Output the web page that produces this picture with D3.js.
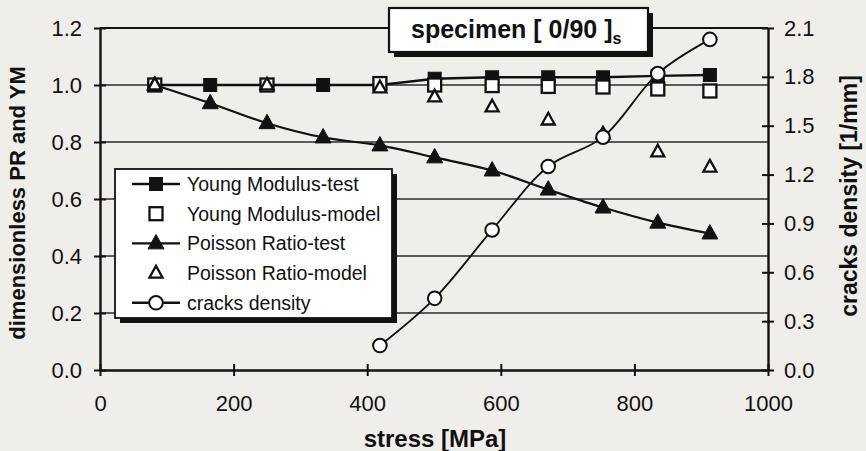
<!DOCTYPE html>
<html><head><meta charset="utf-8">
<script src="https://cdn.jsdelivr.net/npm/d3@7"></script>
<style>body{margin:0;background:#efeeea}svg{display:block}</style>
</head><body><svg id="c" width="866" height="451"></svg>
<script>
// ---- data ----
const ymTestStress  = [82,165,250,334,419,501,587,671,753,835,913];
const ymTest        = [1.0,1.0,1.0,1.0,1.0,1.022,1.027,1.027,1.027,1.032,1.035];
const ymModelStress = [82,250,419,501,587,671,753,835,913];
const ymModel       = [1.0,1.0,1.005,1.0,0.998,0.995,0.993,0.986,0.979];
const prTestStress  = [82,165,250,334,419,501,587,671,753,835,913];
const prTest        = [1.0,0.936,0.866,0.816,0.788,0.746,0.700,0.633,0.570,0.517,0.479];
const prModelStress = [82,250,419,501,587,671,753,835,913];
const prModel       = [1.0,1.0,0.99,0.958,0.923,0.877,0.828,0.765,0.712];
const crackStress   = [419,501,587,671,753,835,913];
const crackDensity  = [0.15,0.44,0.86,1.25,1.43,1.82,2.03];
const xTicks      = [0,200,400,600,800,1000];
const yLeftTicks  = [0,0.2,0.4,0.6,0.8,1.0,1.2];
const yRightTicks = [0,0.3,0.6,0.9,1.2,1.5,1.8,2.1];
const legendLabels = ["Young Modulus-test","Young Modulus-model","Poisson Ratio-test","Poisson Ratio-model","cracks density"];

// ---- layout ----
const svg = d3.select("#c");
const FONT = "'Liberation Sans', Arial, sans-serif";
const L = 100, R = 768, T = 28, B = 370;
const x = d3.scaleLinear().domain([0,1000]).range([L,R]);
const yL = d3.scaleLinear().domain([0,1.2]).range([B,T]);
const yR = d3.scaleLinear().domain([0,2.1]).range([B,T]);
const ink = "#111";

// gridlines
svg.append("g").selectAll("line").data(yLeftTicks.filter(d=>d>0 && d<1.2)).join("line")
  .attr("x1",L).attr("x2",R).attr("y1",d=>yL(d)).attr("y2",d=>yL(d))
  .attr("stroke","#2a2a2a").attr("stroke-width",1.3);
// top frame line
svg.append("line").attr("x1",L).attr("x2",R).attr("y1",T).attr("y2",T)
  .attr("stroke",ink).attr("stroke-width",1.8);

// axes
function styleAxis(g){
  g.select(".domain").attr("stroke",ink).attr("stroke-width",2.4);
  g.selectAll(".tick line").attr("stroke",ink).attr("stroke-width",2);
  g.selectAll(".tick text").attr("font-family",FONT).attr("font-size",22).attr("fill",ink);
}
const gx = svg.append("g").attr("transform",`translate(0,${B})`)
  .call(d3.axisBottom(x).tickValues(xTicks).tickSizeInner(6).tickSizeOuter(0).tickPadding(19).tickFormat(d3.format("d")));
styleAxis(gx);
gx.selectAll(".tick line").attr("y1",-6);
const gl = svg.append("g").attr("transform",`translate(${L},0)`)
  .call(d3.axisLeft(yL).tickValues(yLeftTicks).tickSizeInner(6).tickSizeOuter(0).tickPadding(12).tickFormat(d3.format(".1f")));
styleAxis(gl);
gl.selectAll(".tick line").attr("x1",6);
const gr = svg.append("g").attr("transform",`translate(${R},0)`)
  .call(d3.axisRight(yR).tickValues(yRightTicks).tickSizeInner(6).tickSizeOuter(0).tickPadding(10).tickFormat(d3.format(".1f")));
styleAxis(gr);
gr.selectAll(".tick line").attr("x1",-6);

// axis titles
svg.append("text").attr("x",435).attr("y",447).attr("text-anchor","middle")
  .attr("font-family",FONT).attr("font-weight","bold").attr("font-size",24).attr("fill",ink).text("stress [MPa]");
svg.append("text").attr("transform","translate(25,203) rotate(-90)").attr("text-anchor","middle")
  .attr("font-family",FONT).attr("font-weight","bold").attr("font-size",22).attr("fill",ink).text("dimensionless  PR and YM");
svg.append("text").attr("transform","translate(857,196) rotate(-90)").attr("text-anchor","middle")
  .attr("font-family",FONT).attr("font-weight","bold").attr("font-size",23).attr("fill",ink).text("cracks density [1/mm]");

// ---- marks ----
const zip = (xs,ys)=>xs.map((s,i)=>[s,ys[i]]);
const ymT = zip(ymTestStress,ymTest), ymM = zip(ymModelStress,ymModel);
const prT = zip(prTestStress,prTest), prM = zip(prModelStress,prModel);
const cr = zip(crackStress,crackDensity);

const lineL = d3.line().x(d=>x(d[0])).y(d=>yL(d[1]));
const lineLs = d3.line().x(d=>x(d[0])).y(d=>yL(d[1])).curve(d3.curveCatmullRom.alpha(0.5));
const lineRs = d3.line().x(d=>x(d[0])).y(d=>yR(d[1])).curve(d3.curveCatmullRom.alpha(0.5));

const S = 13; // square size
const triPath = (cx,cy,s)=>{const h=s*0.9;return `M${cx},${cy-h*0.62}L${cx+s/2},${cy+h*0.38}L${cx-s/2},${cy+h*0.38}Z`;};

function sq(g,cx,cy,filled){
  g.append("rect").attr("x",cx-S/2).attr("y",cy-S/2).attr("width",S).attr("height",S)
   .attr("fill",filled?ink:"#fff").attr("stroke",ink).attr("stroke-width",filled?1:2.3);
}
function tri(g,cx,cy,filled){
  g.append("path").attr("d",triPath(cx,cy,filled?16:13))
   .attr("fill",filled?ink:"#fff").attr("stroke",ink).attr("stroke-width",filled?1:2.3).attr("stroke-linejoin","miter");
}
function circ(g,cx,cy){
  g.append("circle").attr("cx",cx).attr("cy",cy).attr("r",6.8).attr("fill","#fff").attr("stroke",ink).attr("stroke-width",2);
}

const marks = svg.append("g");
marks.append("path").attr("d",lineL(ymT)).attr("fill","none").attr("stroke",ink).attr("stroke-width",2.4);
ymT.forEach(d=>sq(marks,x(d[0]),yL(d[1]),true));
ymM.forEach(d=>sq(marks,x(d[0]),yL(d[1]),false));
marks.append("path").attr("d",lineLs(prT)).attr("fill","none").attr("stroke",ink).attr("stroke-width",2.2);
prT.forEach(d=>tri(marks,x(d[0]),yL(d[1]),true));
prM.forEach(d=>tri(marks,x(d[0]),yL(d[1]),false));
marks.append("path").attr("d",lineRs(cr)).attr("fill","none").attr("stroke",ink).attr("stroke-width",1.8);
cr.forEach(d=>circ(marks,x(d[0]),yR(d[1])));

// ---- legend ----
const lg = svg.append("g");
lg.append("rect").attr("x",120).attr("y",174).attr("width",277).attr("height",149).attr("fill",ink);
lg.append("rect").attr("x",115).attr("y",169).attr("width",277).attr("height",149).attr("fill","#fff").attr("stroke",ink).attr("stroke-width",1.8);
const rowY = i=>184+i*29.7;
legendLabels.forEach((lab,i)=>{
  const cy = rowY(i);
  if(i===0||i===2||i===4) lg.append("line").attr("x1",132).attr("x2",180).attr("y1",cy).attr("y2",cy).attr("stroke",ink).attr("stroke-width",2.4);
  if(i===0) sq(lg,156,cy,true);
  if(i===1) sq(lg,156,cy,false);
  if(i===2) tri(lg,156,cy,true);
  if(i===3) tri(lg,156,cy,false);
  if(i===4) circ(lg,156,cy);
  lg.append("text").attr("x",187).attr("y",cy+7).attr("font-family",FONT).attr("font-size",19.5).attr("fill",ink).text(lab);
});

// ---- title box ----
const tb = svg.append("g");
tb.append("rect").attr("x",394).attr("y",13).attr("width",259).attr("height",44).attr("fill",ink);
tb.append("rect").attr("x",389).attr("y",8).attr("width",259).attr("height",44).attr("fill","#fff").attr("stroke",ink).attr("stroke-width",2.2);
const tt = tb.append("text").attr("x",411).attr("y",38).attr("font-family",FONT).attr("font-weight","bold").attr("font-size",25).attr("fill",ink);
tt.append("tspan").text("specimen [ 0/90 ]");
tt.append("tspan").attr("font-size",16).attr("dy",6).text("s");
</script>
</body></html>
